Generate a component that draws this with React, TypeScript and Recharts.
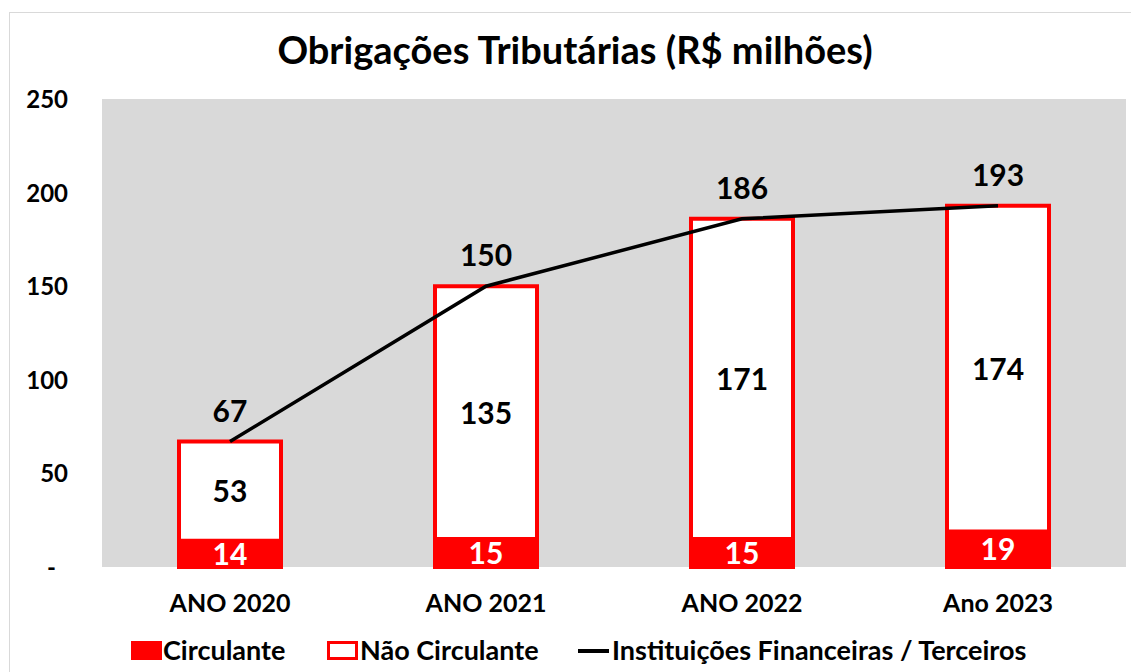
import React from 'react';
import { ComposedChart, Bar, Line, XAxis, YAxis, LabelList } from 'recharts';

const categories = ['ANO 2020', 'ANO 2021', 'ANO 2022', 'Ano 2023'];
const circulante = [14, 15, 15, 19];
const naoCirculante = [53, 135, 171, 174];
const total = [67, 150, 186, 193];
const yTicks = [0, 50, 100, 150, 200, 250];

const data = categories.map((c, i) => ({
  name: c,
  circulante: circulante[i],
  naoCirculante: naoCirculante[i],
  total: total[i],
}));

const FONT = 'Lato, "Open Sans", sans-serif';
const RED = '#FF0000';

const YTick = (props: any) => {
  const { y, payload } = props;
  const v = payload.value;
  if (v === 0) {
    return (
      <text x={56} y={y} dy={9} textAnchor="end" fontFamily={FONT} fontWeight={700} fontSize={24} fill="#000">-</text>
    );
  }
  return (
    <text x={68} y={y} dy={9} textAnchor="end" fontFamily={FONT} fontWeight={700} fontSize={24} fill="#000">{v}</text>
  );
};

const XTick = (props: any) => {
  const { x, y, payload } = props;
  return (
    <text x={x} y={y} dy={37} textAnchor="middle" fontFamily={FONT} fontWeight={700} fontSize={25} fill="#000">{payload.value}</text>
  );
};

const TotalLabel = (props: any) => {
  const { x, y, value } = props;
  return (
    <text x={x} y={y} dy={-20} textAnchor="middle" fontFamily={FONT} fontWeight={700} fontSize={30} fill="#000">{value}</text>
  );
};

const CenterLabel = (color: string) => (props: any) => {
  const { x, y, width, height, value } = props;
  return (
    <text x={x + width / 2} y={y + height / 2} dy={11} textAnchor="middle" fontFamily={FONT} fontWeight={700} fontSize={30} fill={color}>{value}</text>
  );
};

export default function App() {
  return (
    <div style={{ position: 'absolute', left: 0, top: 0, width: 1131, height: 672, background: '#fff', overflow: 'hidden' }}>
      <div style={{ position: 'absolute', left: 9, top: 12, width: 1200, height: 700, border: '1px solid #D9D9D9' }} />
      <div style={{ position: 'absolute', left: 0, top: 25, width: 1150, textAlign: 'center', fontFamily: FONT, fontWeight: 700, fontSize: 38, lineHeight: '48px', color: '#000' }}>
        Obrigações Tributárias (R$ milhões)
      </div>
      <div style={{ position: 'absolute', left: 0, top: 0 }}>
        <ComposedChart width={1131} height={672} data={data} margin={{ top: 99, right: 5, bottom: 65, left: 0 }}>
          <rect x={102} y={99} width={1024} height={468} fill="#D9D9D9" />
          <XAxis dataKey="name" axisLine={false} tickLine={false} tick={<XTick />} height={40} interval={0} />
          <YAxis domain={[0, 250]} ticks={yTicks} axisLine={false} tickLine={false} tick={<YTick />} width={102} interval={0} />
          <Bar dataKey="circulante" stackId="a" fill={RED} stroke={RED} strokeWidth={4} barSize={102} isAnimationActive={false}>
            <LabelList dataKey="circulante" content={CenterLabel('#fff')} />
          </Bar>
          <Bar dataKey="naoCirculante" stackId="a" fill="#fff" stroke={RED} strokeWidth={4} barSize={102} isAnimationActive={false}>
            <LabelList dataKey="naoCirculante" content={CenterLabel('#000')} />
          </Bar>
          <Line dataKey="total" stroke="#000" strokeWidth={3.5} dot={false} isAnimationActive={false}>
            <LabelList dataKey="total" content={<TotalLabel />} />
          </Line>
        </ComposedChart>
      </div>
      <div style={{ position: 'absolute', left: 0, top: 633, width: 1131, height: 34, fontFamily: FONT, fontWeight: 700, fontSize: 27, lineHeight: '34px', color: '#000' }}>
        <div style={{ position: 'absolute', left: 131, top: 8, width: 31, height: 19, background: RED }} />
        <div style={{ position: 'absolute', left: 163, top: 0 }}>Circulante</div>
        <div style={{ position: 'absolute', left: 327, top: 8, width: 25, height: 13, border: `3px solid ${RED}`, background: '#fff' }} />
        <div style={{ position: 'absolute', left: 360, top: 0 }}>Não Circulante</div>
        <div style={{ position: 'absolute', left: 578, top: 16, width: 31, height: 4, background: '#000' }} />
        <div style={{ position: 'absolute', left: 612, top: 0 }}>Instituições Financeiras / Terceiros</div>
      </div>
    </div>
  );
}
